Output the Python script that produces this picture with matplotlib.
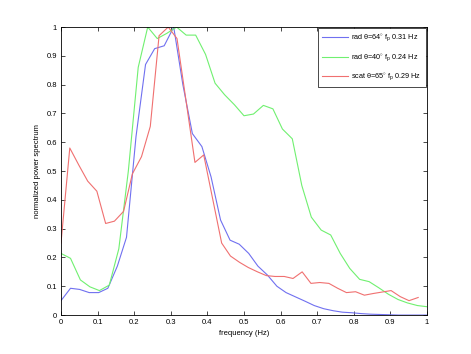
import matplotlib
matplotlib.use('Agg')
import matplotlib.pyplot as plt

plt.rcParams['font.family'] = ['Liberation Sans', 'DejaVu Sans']
plt.rcParams['mathtext.fontset'] = 'custom'
plt.rcParams['mathtext.rm'] = 'Liberation Sans'
plt.rcParams['mathtext.it'] = 'Liberation Sans'

# rad theta=64, f_p 0.31 Hz (grid 1/39 Hz)
freq_blue = [0.0, 0.026, 0.051, 0.077, 0.103, 0.128, 0.154, 0.179, 0.205, 0.231,
             0.256, 0.282, 0.308, 0.333, 0.359, 0.385, 0.410, 0.436, 0.462, 0.487,
             0.513, 0.538, 0.564, 0.590, 0.615, 0.641, 0.667, 0.692, 0.718, 0.744,
             0.769, 0.795, 0.821, 0.846, 0.872, 0.897, 0.923, 0.949, 0.974, 1.0]
spec_blue = [0.05, 0.093, 0.089, 0.078, 0.078, 0.093, 0.17, 0.27, 0.62, 0.87,
             0.925, 0.935, 1.0, 0.8, 0.63, 0.585, 0.48, 0.33, 0.26, 0.246,
             0.214, 0.17, 0.139, 0.1, 0.078, 0.063, 0.048, 0.033, 0.022, 0.015,
             0.01, 0.008, 0.005, 0.003, 0.002, 0.001, 0.0, 0.0, 0.0, 0.0]

# rad theta=40, f_p 0.24 Hz (grid 1/38 Hz)
freq_green = [0.0, 0.026, 0.053, 0.079, 0.105, 0.132, 0.158, 0.184, 0.211, 0.237,
              0.263, 0.289, 0.316, 0.342, 0.368, 0.395, 0.421, 0.447, 0.474, 0.5,
              0.526, 0.553, 0.579, 0.605, 0.632, 0.658, 0.684, 0.711, 0.737, 0.763,
              0.789, 0.816, 0.842, 0.868, 0.895, 0.921, 0.947, 0.974, 1.0]
spec_green = [0.214, 0.197, 0.122, 0.098, 0.085, 0.104, 0.23, 0.5, 0.86, 1.0,
              0.96, 0.978, 1.0, 0.972, 0.972, 0.905, 0.805, 0.765, 0.73, 0.692,
              0.698, 0.728, 0.716, 0.646, 0.612, 0.45, 0.34, 0.295, 0.278, 0.214,
              0.162, 0.124, 0.116, 0.095, 0.072, 0.054, 0.042, 0.033, 0.029]

# scat theta=65, f_p 0.29 Hz (grid 1/41 Hz)
freq_red = [0.0, 0.024, 0.049, 0.073, 0.098, 0.122, 0.146, 0.171, 0.195, 0.220,
            0.244, 0.268, 0.293, 0.317, 0.341, 0.366, 0.390, 0.415, 0.439, 0.463,
            0.488, 0.512, 0.537, 0.561, 0.585, 0.610, 0.634, 0.659, 0.683, 0.707,
            0.732, 0.756, 0.780, 0.805, 0.829, 0.854, 0.878, 0.902, 0.927, 0.951,
            0.976]
spec_red = [0.25, 0.58, 0.52, 0.465, 0.43, 0.318, 0.326, 0.36, 0.49, 0.55,
            0.655, 0.97, 1.0, 0.96, 0.75, 0.53, 0.556, 0.40, 0.25, 0.205,
            0.183, 0.165, 0.15, 0.137, 0.134, 0.134, 0.127, 0.15, 0.11, 0.113,
            0.11, 0.093, 0.078, 0.081, 0.069, 0.075, 0.08, 0.085, 0.064, 0.05,
            0.061]

labels = [r'rad $\theta$=64$^{\circ}$ f$_p$ 0.31 Hz',
          r'rad $\theta$=40$^{\circ}$ f$_p$ 0.24 Hz',
          r'scat $\theta$=65$^{\circ}$ f$_p$ 0.29 Hz']
ticks = [0, 0.1, 0.2, 0.3, 0.4, 0.5, 0.6, 0.7, 0.8, 0.9, 1]
tick_labels = ['0', '0.1', '0.2', '0.3', '0.4', '0.5', '0.6', '0.7', '0.8', '0.9', '1']

fig = plt.figure(figsize=(4.71, 3.54), dpi=100)
ax = fig.add_axes([0.1295, 0.110, 0.777, 0.8136])

ax.plot(freq_blue, spec_blue, color='#7070f0', lw=0.8, label=labels[0])
ax.plot(freq_green, spec_green, color='#70f070', lw=0.8, label=labels[1])
ax.plot(freq_red, spec_red, color='#f07070', lw=0.8, label=labels[2])

ax.set_xlim(0, 1)
ax.set_ylim(0, 1)
ax.set_xticks(ticks)
ax.set_xticklabels(tick_labels)
ax.set_yticks(ticks)
ax.set_yticklabels(tick_labels)
ax.tick_params(direction='in', top=True, right=True, length=3, width=0.5,
               labelsize=5.5, pad=3)
for s in ax.spines.values():
    s.set_linewidth(0.6)
ax.set_xlabel('frequency (Hz)', fontsize=5.5, labelpad=3)
ax.set_ylabel('normalized power spectrum', fontsize=5.5, labelpad=4)

leg = ax.legend(loc='upper right', fontsize=5.2, fancybox=False, framealpha=1,
                edgecolor='black', borderaxespad=0.2, handlelength=3.6,
                handletextpad=0.4, labelspacing=1.05, borderpad=0.6)
leg.get_frame().set_linewidth(0.5)

fig.savefig('out.png', dpi=100)
